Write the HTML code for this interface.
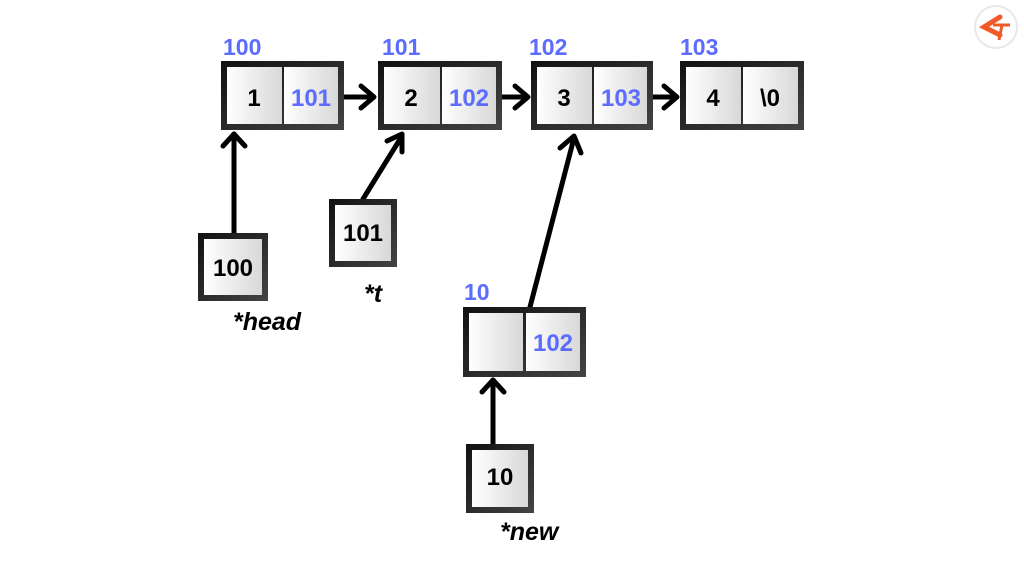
<!DOCTYPE html>
<html><head><style>body{margin:0;background:#fff}svg{display:block}</style></head><body>
<svg width="1024" height="578" viewBox="0 0 1024 578" xmlns="http://www.w3.org/2000/svg" font-family="Liberation Sans, sans-serif" font-weight="bold">
<defs>
<linearGradient id="g" x1="0" x2="1"><stop offset="0" stop-color="#ffffff"/><stop offset="1" stop-color="#d8d8d8"/></linearGradient>
<linearGradient id="b" x1="0" y1="0" x2="1" y2="1"><stop offset="0" stop-color="#111"/><stop offset="1" stop-color="#444"/></linearGradient>
</defs>
<g stroke="#000" stroke-width="5" fill="none" stroke-linecap="round" stroke-linejoin="round">
<line x1="333" y1="97" x2="372" y2="97"/><polyline points="361,86 374,97 361,108"/>
<line x1="490" y1="97" x2="526" y2="97"/><polyline points="515,86 528,97 515,108"/>
<line x1="643" y1="97" x2="675" y2="97"/><polyline points="664,86 677,97 664,108"/>
<line x1="234" y1="233" x2="234" y2="134"/><polyline points="223,146 234,134 245,146"/>
<line x1="363" y1="199" x2="402" y2="136"/><polyline points="387,141 402,134 402,152"/>
<line x1="530" y1="307" x2="574" y2="138"/><polyline points="560,148 574,136 581,153"/>
<line x1="493" y1="444" x2="493" y2="380"/><polyline points="482,392 493,380 504,392"/>
</g>
<g>
<rect x="221" y="61" width="123" height="69" fill="url(#b)"/><rect x="227" y="67" width="55" height="57" fill="url(#g)"/><rect x="284" y="67" width="54" height="57" fill="url(#g)"/>
<rect x="378" y="61" width="124" height="69" fill="url(#b)"/><rect x="384" y="67" width="56" height="57" fill="url(#g)"/><rect x="442" y="67" width="54" height="57" fill="url(#g)"/>
<rect x="531" y="61" width="122" height="69" fill="url(#b)"/><rect x="537" y="67" width="55" height="57" fill="url(#g)"/><rect x="594" y="67" width="53" height="57" fill="url(#g)"/>
<rect x="680" y="61" width="124" height="69" fill="url(#b)"/><rect x="686" y="67" width="55" height="57" fill="url(#g)"/><rect x="743" y="67" width="55" height="57" fill="url(#g)"/>
<rect x="463" y="307" width="123" height="70" fill="url(#b)"/><rect x="469" y="313" width="54" height="58" fill="url(#g)"/><rect x="526" y="313" width="54" height="58" fill="url(#g)"/>
<rect x="198" y="233" width="70" height="68" fill="url(#b)"/><rect x="204" y="239" width="58" height="56" fill="url(#g)"/>
<rect x="329" y="199" width="68" height="68" fill="url(#b)"/><rect x="335" y="205" width="56" height="56" fill="url(#g)"/>
<rect x="466" y="444" width="68" height="69" fill="url(#b)"/><rect x="472" y="450" width="56" height="57" fill="url(#g)"/>
</g>
<g font-size="24" fill="#000" text-anchor="middle">
<text x="254" y="106">1</text><text x="411" y="106">2</text><text x="564" y="106">3</text><text x="713" y="106">4</text><text x="770" y="106">\0</text>
<text x="233" y="276">100</text><text x="363" y="241">101</text><text x="500" y="485">10</text>
</g>
<g font-size="24" fill="#5b6cff" text-anchor="middle">
<text x="311" y="106">101</text><text x="469" y="106">102</text><text x="621" y="106">103</text><text x="553" y="351">102</text>
</g>
<g font-size="23" fill="#5b6cff">
<text x="223" y="55">100</text><text x="382" y="55">101</text><text x="529" y="55">102</text><text x="680" y="55">103</text><text x="464" y="300">10</text>
</g>
<g font-size="25" fill="#000" font-style="italic">
<text x="233" y="330">*head</text><text x="364" y="302">*t</text><text x="500" y="540">*new</text>
</g>
<circle cx="996" cy="27" r="21" fill="#fff" stroke="#e8e8e8" stroke-width="2"/>
<path d="M1000 17 L984 27 L1000 35" stroke="#f05a28" stroke-width="5" fill="none" stroke-linecap="round"/>
<path d="M993 25 H1010 M1002 25 L999 40" stroke="#f05a28" stroke-width="3" fill="none"/>
</svg>
</body></html>
